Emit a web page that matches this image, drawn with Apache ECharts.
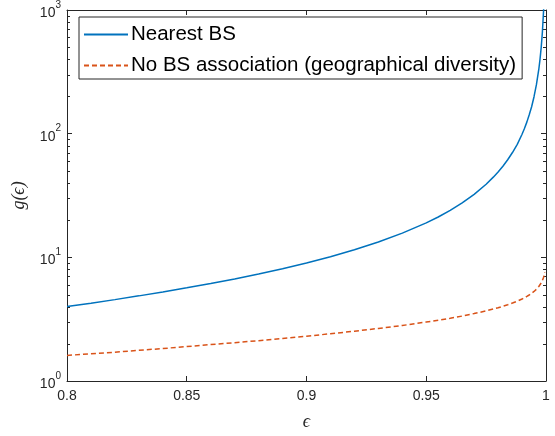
<!DOCTYPE html>
<html>
<head>
<meta charset="utf-8">
<script src="https://cdn.jsdelivr.net/npm/echarts@6/dist/echarts.min.js"></script>
<style>
  html, body { margin: 0; padding: 0; background: #fff; }
  #chart { width: 555px; height: 436px; }
</style>
</head>
<body>
<div id="chart"></div>
<script>
// values
const epsValues = [0.80, 0.81, 0.82, 0.83, 0.84, 0.85, 0.86, 0.87, 0.88, 0.89, 0.90, 0.91, 0.92, 0.93, 0.94, 0.95, 0.955, 0.96, 0.965, 0.97, 0.975, 0.978, 0.98, 0.982, 0.984, 0.986, 0.988, 0.99, 0.991, 0.992, 0.993, 0.994, 0.995, 0.996, 0.997, 0.9975, 0.998, 0.9985, 0.999, 0.9995]
const nearestBS = [4.0, 4.26, 4.55, 4.88, 5.25, 5.67, 6.14, 6.69, 7.33, 8.09, 9.0, 10.1, 11.5, 13.3, 15.7, 19.0, 21.2, 24.0, 27.6, 32.3, 39, 44.5, 49, 54.5, 61.5, 70.4, 82, 99, 110, 124, 142, 165, 199, 249, 332, 399, 499, 666, 999, 1999]
const noAssoc = [1.61, 1.66, 1.71, 1.77, 1.83, 1.90, 1.97, 2.04, 2.12, 2.21, 2.30, 2.41, 2.53, 2.66, 2.81, 3.0, 3.1, 3.22, 3.35, 3.51, 3.69, 3.82, 3.91, 4.02, 4.14, 4.27, 4.42, 4.6, 4.71, 4.83, 4.96, 5.12, 5.3, 5.52, 5.81, 5.99, 6.21, 6.5, 6.9, 7.6]
const seriesNames = ['Nearest BS', 'No BS association (geographical diversity)']
const xTicks = { min: 0.8, max: 1, interval: 0.05 }
const yTicks = { min: 1, max: 1000 }
const minorTickValues = [2, 3, 4, 5, 6, 7, 8, 9, 20, 30, 40, 50, 60, 70, 80, 90, 200, 300, 400, 500, 600, 700, 800, 900]

const axisColor = '#262626'
const font = '"Liberation Sans", Arial, Helvetica, sans-serif'
const serif = '"Liberation Serif", "DejaVu Serif", serif'

const chart = echarts.init(document.getElementById('chart'), null, { renderer: 'canvas' })

const baseX = {
  type: 'value',
  min: xTicks.min,
  max: xTicks.max,
  interval: xTicks.interval,
  axisLine: { lineStyle: { color: axisColor, width: 1 } },
  axisTick: { inside: true, length: 5, lineStyle: { color: axisColor } },
  splitLine: { show: false }
}
const baseY = {
  type: 'log',
  logBase: 10,
  min: yTicks.min,
  max: yTicks.max,
  splitNumber: 3,
  axisLine: { show: true, lineStyle: { color: axisColor, width: 1 } },
  axisTick: { inside: true, length: 5, lineStyle: { color: axisColor } },
  splitLine: { show: false }
}

const option = {
  animation: false,
  grid: { left: 67, right: 9, top: 6, bottom: 53 },
  legend: {
    data: seriesNames,
    orient: 'vertical',
    left: 79,
    top: 17,
    padding: [7, 6, 3, 4],
    itemGap: 10,
    itemWidth: 44,
    itemHeight: 14,
    borderColor: axisColor,
    borderWidth: 1,
    backgroundColor: '#fff',
    itemStyle: { opacity: 0 },
    textStyle: { fontFamily: font, fontSize: 20.5, color: '#000', padding: [0, 0, 0, -2] }
  },
  xAxis: [
    Object.assign({}, baseX, {
      position: 'bottom',
      name: 'ϵ',
      nameLocation: 'middle',
      nameGap: 32,
      nameTextStyle: { fontFamily: serif, fontStyle: 'italic', fontSize: 18, color: axisColor },
      axisLabel: { fontFamily: font, fontSize: 14, color: axisColor, margin: 8 }
    }),
    Object.assign({}, baseX, { position: 'top', axisLabel: { show: false } })
  ],
  yAxis: [
    Object.assign({}, baseY, {
      position: 'left',
      name: 'g(ϵ)',
      nameLocation: 'middle',
      nameGap: 39,
      nameTextStyle: { fontFamily: serif, fontStyle: 'italic', fontSize: 18, color: axisColor },
      axisLabel: {
        margin: 6,
        formatter: v => '{b|10}{s|' + Math.round(Math.log10(v)) + '}',
        rich: {
          b: { fontFamily: font, fontSize: 14, color: axisColor, padding: [6, 0, 0, 0] },
          s: { fontFamily: font, fontSize: 10, color: axisColor, verticalAlign: 'top', padding: [0, 0, 6, 0] }
        }
      }
    }),
    Object.assign({}, baseY, { position: 'right', axisLabel: { show: false } })
  ],
  series: [
    {
      name: seriesNames[0],
      type: 'line',
      data: epsValues.map((e, i) => [e, nearestBS[i]]),
      symbol: 'none',
      clip: true,
      lineStyle: { color: '#0072BD', width: 1.5 },
      itemStyle: { color: '#0072BD' }
    },
    {
      name: seriesNames[1],
      type: 'line',
      data: epsValues.map((e, i) => [e, noAssoc[i]]),
      symbol: 'none',
      clip: true,
      lineStyle: { color: '#D95319', width: 1.5, type: [5, 3] },
      itemStyle: { color: '#D95319' }
    },
    {
      // log minor ticks on both sides of the box
      type: 'custom',
      silent: true,
      clip: false,
      data: minorTickValues.map(v => [xTicks.min, v]),
      renderItem: (params, api) => {
        const v = api.value(1)
        const l = api.coord([xTicks.min, v])
        const r = api.coord([xTicks.max, v])
        const y = Math.round(l[1]) + 0.5
        const style = { stroke: axisColor, lineWidth: 1 }
        return {
          type: 'group',
          children: [
            { type: 'line', shape: { x1: l[0], y1: y, x2: l[0] + 3, y2: y }, style },
            { type: 'line', shape: { x1: r[0] - 3, y1: y, x2: r[0], y2: y }, style }
          ]
        }
      }
    }
  ]
}

chart.setOption(option)
</script>
</body>
</html>
